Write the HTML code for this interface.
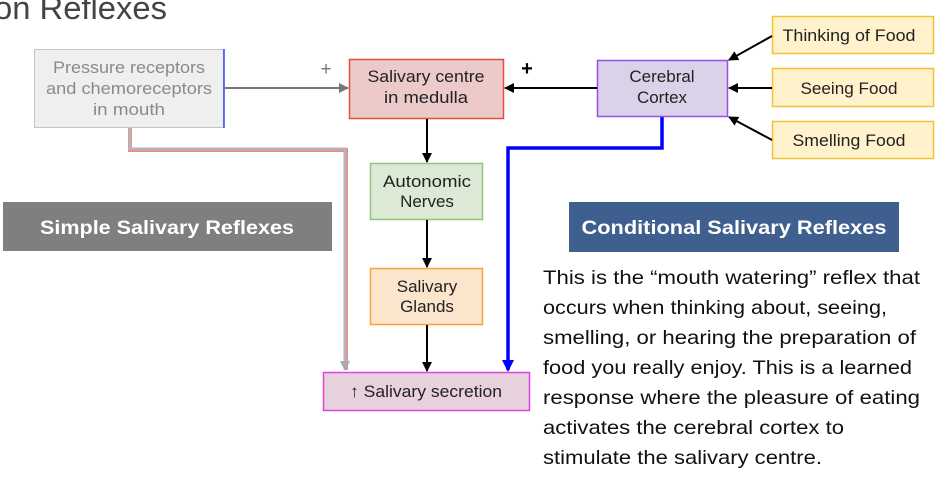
<!DOCTYPE html>
<html><head><meta charset="utf-8"><style>
html,body{margin:0;padding:0;background:#fff;width:944px;height:484px;overflow:hidden}
svg text{font-family:"Liberation Sans",sans-serif}
</style></head><body>
<svg width="944" height="484" viewBox="0 0 944 484" xmlns="http://www.w3.org/2000/svg">
<defs>
<marker id="ab" markerWidth="10" markerHeight="10" refX="9" refY="5" orient="auto" markerUnits="userSpaceOnUse"><path d="M0,0 L10,5 L0,10 z" fill="#000"/></marker>
<marker id="ag" markerWidth="10" markerHeight="10" refX="9" refY="5" orient="auto" markerUnits="userSpaceOnUse"><path d="M0,0 L10,5 L0,10 z" fill="#777"/></marker>
<marker id="al" markerWidth="10" markerHeight="10" refX="9" refY="5" orient="auto" markerUnits="userSpaceOnUse"><path d="M0,0 L10,5 L0,10 z" fill="#aaa"/></marker>
<marker id="au" markerWidth="12" markerHeight="12" refX="10" refY="6" orient="auto" markerUnits="userSpaceOnUse"><path d="M0,0 L12,6 L0,12 z" fill="#0000ff"/></marker>
</defs>
<text x="-6" y="19" font-size="32" fill="#444" textLength="173" lengthAdjust="spacingAndGlyphs">on Reflexes</text>

<!-- pressure box -->
<rect x="34.5" y="49.5" width="189" height="78" fill="#efefef" stroke="#c4c4c4"/>
<line x1="224" y1="49" x2="224" y2="128" stroke="#3344ff" stroke-width="1.5"/>
<g font-size="17" fill="#8a8a8a" text-anchor="middle">
<text x="129" y="73" textLength="152" lengthAdjust="spacingAndGlyphs">Pressure receptors</text>
<text x="129" y="94" textLength="166" lengthAdjust="spacingAndGlyphs">and chemoreceptors</text>
<text x="129" y="115" textLength="72" lengthAdjust="spacingAndGlyphs">in mouth</text></g>
<line x1="224" y1="88" x2="348" y2="88" stroke="#777" stroke-width="2" marker-end="url(#ag)"/>
<text x="326" y="75" font-size="19" fill="#777" text-anchor="middle">+</text>

<!-- gray path down -->
<path d="M130,128 V150 H346 V370" fill="none" stroke="#e88" stroke-width="4"/>
<path d="M130,128 V149 H345 V370" fill="none" stroke="#b5b5b5" stroke-width="3" marker-end="url(#al)"/>

<!-- salivary centre -->
<rect x="349.5" y="59.5" width="154" height="59" fill="#eccaca" stroke="#e84c3d" stroke-width="1.5"/>
<g font-size="17" fill="#222" text-anchor="middle">
<text x="426" y="82" textLength="117" lengthAdjust="spacingAndGlyphs">Salivary centre</text>
<text x="426" y="103" textLength="84" lengthAdjust="spacingAndGlyphs">in medulla</text></g>

<line x1="427" y1="119" x2="427" y2="162" stroke="#000" stroke-width="2" marker-end="url(#ab)"/>
<rect x="370.5" y="163.5" width="112" height="56" fill="#dce9d5" stroke="#93c47d" stroke-width="1.5"/>
<g font-size="17" fill="#222" text-anchor="middle">
<text x="427" y="187" textLength="88" lengthAdjust="spacingAndGlyphs">Autonomic</text>
<text x="427" y="207">Nerves</text>
<text x="427" y="292">Salivary</text>
<text x="427" y="312">Glands</text>
<text x="426" y="397" textLength="152" lengthAdjust="spacingAndGlyphs">↑ Salivary secretion</text>
<text x="662" y="82">Cerebral</text>
<text x="662" y="103">Cortex</text>
<text x="849" y="41" textLength="133" lengthAdjust="spacingAndGlyphs">Thinking of Food</text>
<text x="849" y="94" textLength="97" lengthAdjust="spacingAndGlyphs">Seeing Food</text>
<text x="849" y="146" textLength="113" lengthAdjust="spacingAndGlyphs">Smelling Food</text>
</g>
<line x1="427" y1="220" x2="427" y2="267" stroke="#000" stroke-width="2" marker-end="url(#ab)"/>
<rect x="370.5" y="268.5" width="112" height="56" fill="#fce5cd" stroke="#f6a33c" stroke-width="1.5"/>
<line x1="427" y1="325" x2="427" y2="371" stroke="#000" stroke-width="2" marker-end="url(#ab)"/>
<rect x="323.5" y="372.5" width="206" height="38" fill="#e6d1dc" stroke="#e040e8" stroke-width="1.5"/>
<g font-size="17" fill="#222" text-anchor="middle">
<text x="427" y="292">Salivary</text><text x="427" y="312">Glands</text>
<text x="426" y="397" textLength="152" lengthAdjust="spacingAndGlyphs">↑ Salivary secretion</text></g>

<!-- blue path -->
<path d="M662,117 V148 H508 V370" fill="none" stroke="#0000ff" stroke-width="3.5" marker-end="url(#au)"/>

<!-- cortex -->
<rect x="597.5" y="60.5" width="130" height="56" fill="#d9d2e9" stroke="#9b4de8" stroke-width="1.5"/>
<g font-size="17" fill="#222" text-anchor="middle"><text x="662" y="82">Cerebral</text><text x="662" y="103">Cortex</text></g>
<line x1="597" y1="88" x2="505" y2="88" stroke="#000" stroke-width="2" marker-end="url(#ab)"/>
<text x="527" y="75" font-size="20" font-weight="bold" fill="#000" text-anchor="middle">+</text>

<!-- food boxes -->
<rect x="772.5" y="16.5" width="161" height="37" fill="#fff2cc" stroke="#f1c232" stroke-width="1.5"/>
<rect x="772.5" y="68.5" width="161" height="38" fill="#fff2cc" stroke="#f1c232" stroke-width="1.5"/>
<rect x="772.5" y="121.5" width="161" height="37" fill="#fff2cc" stroke="#f1c232" stroke-width="1.5"/>
<g font-size="17" fill="#222" text-anchor="middle">
<text x="849" y="41" textLength="133" lengthAdjust="spacingAndGlyphs">Thinking of Food</text>
<text x="849" y="94" textLength="97" lengthAdjust="spacingAndGlyphs">Seeing Food</text>
<text x="849" y="146" textLength="113" lengthAdjust="spacingAndGlyphs">Smelling Food</text></g>
<line x1="772" y1="36" x2="729" y2="60" stroke="#000" stroke-width="2" marker-end="url(#ab)"/>
<line x1="772" y1="88" x2="729" y2="88" stroke="#000" stroke-width="2" marker-end="url(#ab)"/>
<line x1="772" y1="140" x2="729" y2="117" stroke="#000" stroke-width="2" marker-end="url(#ab)"/>

<!-- banners -->
<rect x="3" y="202" width="329" height="49" fill="#7f7f7f"/>
<text x="167" y="234" font-size="19" font-weight="bold" fill="#fff" text-anchor="middle" textLength="254" lengthAdjust="spacingAndGlyphs">Simple Salivary Reflexes</text>
<rect x="569" y="202" width="330" height="50" fill="#3f5f8f"/>
<text x="734" y="234" font-size="19" font-weight="bold" fill="#fff" text-anchor="middle" textLength="305" lengthAdjust="spacingAndGlyphs">Conditional Salivary Reflexes</text>

<g font-size="19.5" fill="#111">
<text x="543" y="284" textLength="377" lengthAdjust="spacingAndGlyphs">This is the “mouth watering” reflex that</text>
<text x="543" y="314" textLength="344" lengthAdjust="spacingAndGlyphs">occurs when thinking about, seeing,</text>
<text x="543" y="344" textLength="373" lengthAdjust="spacingAndGlyphs">smelling, or hearing the preparation of</text>
<text x="543" y="374" textLength="369" lengthAdjust="spacingAndGlyphs">food you really enjoy. This is a learned</text>
<text x="543" y="404" textLength="377" lengthAdjust="spacingAndGlyphs">response where the pleasure of eating</text>
<text x="543" y="434" textLength="301" lengthAdjust="spacingAndGlyphs">activates the cerebral cortex to</text>
<text x="543" y="464" textLength="279" lengthAdjust="spacingAndGlyphs">stimulate the salivary centre.</text>
</g>
</svg>
</body></html>
